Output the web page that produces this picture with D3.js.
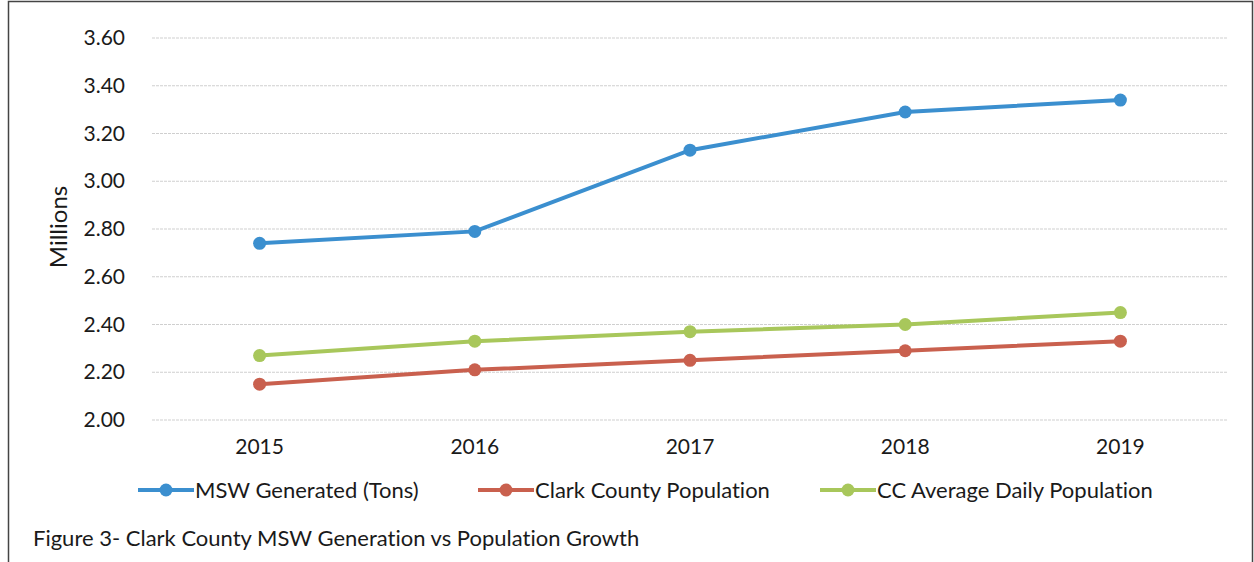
<!DOCTYPE html>
<html>
<head>
<meta charset="utf-8">
<script src="https://cdn.jsdelivr.net/npm/d3@7"></script>
<style>
  body { margin: 0; background: #fff; }
  text { font-family: Lato, "Open Sans", sans-serif; fill: #1a1a1a; font-variant-ligatures: none; }
</style>
</head>
<body>
<svg id="chart" width="1254" height="562"></svg>
<script>
const years = ["2015", "2016", "2017", "2018", "2019"];
const mswGenerated = [2.74, 2.79, 3.13, 3.29, 3.34];
const clarkPopulation = [2.15, 2.21, 2.25, 2.29, 2.33];
const ccAvgDaily = [2.27, 2.33, 2.37, 2.40, 2.45];
const yTicks = [2.00, 2.20, 2.40, 2.60, 2.80, 3.00, 3.20, 3.40, 3.60];

const series = [
  { name: "MSW Generated (Tons)", values: mswGenerated, color: "#3b8fcf" },
  { name: "Clark County Population", values: clarkPopulation, color: "#c9604e" },
  { name: "CC Average Daily Population", values: ccAvgDaily, color: "#a8c75b" }
];

const svg = d3.select("#chart");
const margin = { top: 38, right: 26, bottom: 142, left: 152 };
const width = 1254 - margin.left - margin.right;
const height = 562 - margin.top - margin.bottom;

// outer frame
svg.append("path")
  .attr("d", "M8.5,562 L8.5,1.5 L1252.5,1.5 L1252.5,562")
  .attr("fill", "none")
  .attr("stroke", "#444")
  .attr("stroke-width", 1.5);

const g = svg.append("g")
  .attr("transform", `translate(${margin.left},${margin.top})`);

const x = d3.scaleBand()
  .domain(years)
  .range([0, width]);

const y = d3.scaleLinear()
  .domain([2.0, 3.6])
  .range([height, 0]);

// gridlines
g.selectAll(".grid")
  .data(yTicks)
  .enter()
  .append("line")
  .attr("x1", 0)
  .attr("x2", width)
  .attr("y1", d => y(d))
  .attr("y2", d => y(d))
  .attr("stroke", "#cfcfcf")
  .attr("stroke-width", 1)
  .attr("stroke-dasharray", "3,1");

const yAxis = g.append("g")
  .call(d3.axisLeft(y).tickValues(yTicks).tickFormat(d3.format(".2f")).tickSize(0).tickPadding(27));
yAxis.select(".domain").remove();
yAxis.selectAll("text").style("font-size", "21px").style("font-family", "Lato, sans-serif").attr("fill", "#1a1a1a");

const xAxis = g.append("g")
  .attr("transform", `translate(0,${height})`)
  .call(d3.axisBottom(x).tickSize(0).tickPadding(19));
xAxis.select(".domain").remove();
xAxis.selectAll("text").style("font-size", "21px").style("font-family", "Lato, sans-serif").attr("fill", "#1a1a1a");

svg.append("text")
  .attr("transform", "rotate(-90)")
  .attr("x", -(margin.top + height / 2) + 2)
  .attr("y", 67)
  .attr("text-anchor", "middle")
  .style("font-size", "24px")
  .text("Millions");

const line = d3.line()
  .x((d, i) => x(years[i]) + x.bandwidth() / 2)
  .y(d => y(d));

series.forEach(s => {
  g.append("path")
    .datum(s.values)
    .attr("fill", "none")
    .attr("stroke", s.color)
    .attr("stroke-width", 4)
    .attr("d", line);

  g.selectAll(null)
    .data(s.values)
    .enter()
    .append("circle")
    .attr("cx", (d, i) => x(years[i]) + x.bandwidth() / 2)
    .attr("cy", d => y(d))
    .attr("r", 6.5)
    .attr("fill", s.color);
});

// legend
const legendX = [138, 478, 820];
const legend = svg.append("g").attr("transform", "translate(0,490)");
series.forEach((s, i) => {
  const lg = legend.append("g").attr("transform", `translate(${legendX[i]},0)`);
  lg.append("line")
    .attr("x1", 0).attr("x2", 56)
    .attr("y1", 0).attr("y2", 0)
    .attr("stroke", s.color)
    .attr("stroke-width", 4);
  lg.append("circle")
    .attr("cx", 28).attr("cy", 0).attr("r", 6.5)
    .attr("fill", s.color);
  lg.append("text")
    .attr("x", 57)
    .attr("y", 8)
    .style("font-size", "22px")
    .text(s.name);
});

svg.append("text")
  .attr("x", 33)
  .attr("y", 546)
  .style("font-size", "22px")
  .text("Figure 3- Clark County MSW Generation vs Population Growth");
</script>
</body>
</html>
